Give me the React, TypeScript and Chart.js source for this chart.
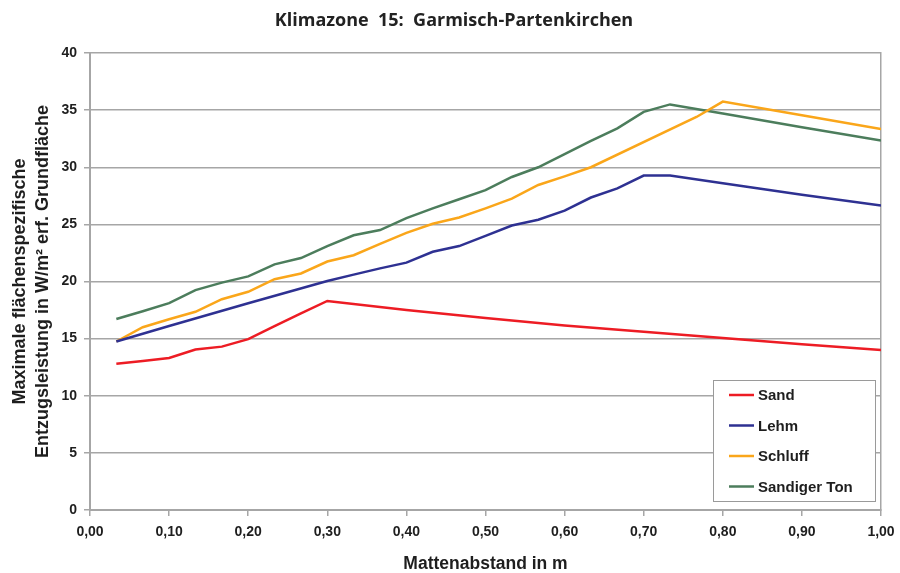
import React, { useEffect, useRef } from 'react';
import { Chart, registerables } from 'chart.js';

Chart.register(...registerables);

const titleText = 'Klimazone  15:  Garmisch-Partenkirchen';
const xAxisTitle = 'Mattenabstand in m';
const yAxisTitle = ['Maximale flächenspezifische', 'Entzugsleistung in W/m² erf. Grundfläche'];

const seriesNames = ['Sand', 'Lehm', 'Schluff', 'Sandiger Ton'];
const seriesColors = ['#ed1c24', '#2e3192', '#faa61a', '#4c7d5c'];

const sandX = [0.0333, 0.0667, 0.1, 0.1333, 0.1667, 0.2, 0.2333, 0.2667, 0.3, 0.4, 0.5, 0.6, 0.7, 0.8, 0.9, 1.0];
const sandY = [12.8, 13.05, 13.3, 14.05, 14.3, 14.95, 16.1, 17.2, 18.3, 17.5, 16.8, 16.15, 15.6, 15.05, 14.5, 14.0];

const lehmX = [0.0333, 0.1, 0.2, 0.3, 0.3333, 0.3667, 0.4, 0.4333, 0.4667, 0.5, 0.5333, 0.5667, 0.6, 0.6333, 0.6667, 0.7, 0.7333, 0.8, 0.9, 1.0];
const lehmY = [14.75, 16.1, 18.1, 20.05, 20.6, 21.15, 21.65, 22.6, 23.1, 24.0, 24.9, 25.4, 26.2, 27.35, 28.15, 29.27, 29.27, 28.6, 27.6, 26.65];

const schluffX = [0.0333, 0.0667, 0.1, 0.1333, 0.1667, 0.2, 0.2333, 0.2667, 0.3, 0.3333, 0.3667, 0.4, 0.4333, 0.4667, 0.5, 0.5333, 0.5667, 0.6, 0.6333, 0.7667, 0.8, 0.9, 1.0];
const schluffY = [14.75, 16.0, 16.7, 17.35, 18.45, 19.1, 20.2, 20.7, 21.75, 22.3, 23.3, 24.25, 25.05, 25.6, 26.4, 27.25, 28.45, 29.2, 30.0, 34.4, 35.75, 34.55, 33.35];

const tonX = [0.0333, 0.0667, 0.1, 0.1333, 0.1667, 0.2, 0.2333, 0.2667, 0.3, 0.3333, 0.3667, 0.4, 0.4333, 0.4667, 0.5, 0.5333, 0.5667, 0.6, 0.6333, 0.6667, 0.7, 0.7333, 0.8, 0.9, 1.0];
const tonY = [16.72, 17.4, 18.1, 19.25, 19.9, 20.45, 21.5, 22.05, 23.1, 24.05, 24.5, 25.55, 26.4, 27.2, 28.0, 29.15, 30.0, 31.15, 32.3, 33.4, 34.85, 35.5, 34.7, 33.5, 32.35];

const xTickValues = [0, 0.1, 0.2, 0.3, 0.4, 0.5, 0.6, 0.7, 0.8, 0.9, 1.0];
const xTickLabels = ['0,00', '0,10', '0,20', '0,30', '0,40', '0,50', '0,60', '0,70', '0,80', '0,90', '1,00'];
const yTickValues = [0, 5, 10, 15, 20, 25, 30, 35, 40];
const yTickLabels = ['0', '5', '10', '15', '20', '25', '30', '35', '40'];

const gridColor = '#a6a6a6';
const textColor = '#1e1e1e';
const sansFamily = "'Liberation Sans', Arial, sans-serif";

const pairs = (xs: number[], ys: number[]) => xs.map((x, i) => ({ x, y: ys[i] }));

const legendPlugin = {
  id: 'boxLegend',
  afterDraw(chart: any) {
    const { ctx, chartArea } = chart;
    const w = 162;
    const h = 121;
    const x0 = chartArea.right - 6 - w;
    const y0 = chartArea.bottom - 9 - h;
    ctx.save();
    ctx.fillStyle = '#ffffff';
    ctx.fillRect(x0, y0, w, h);
    ctx.strokeStyle = '#9a9a9a';
    ctx.lineWidth = 1;
    ctx.strokeRect(x0 + 0.5, y0 + 0.5, w, h);
    ctx.font = `bold 15px ${sansFamily}`;
    ctx.textBaseline = 'middle';
    ctx.textAlign = 'left';
    chart.data.datasets.forEach((ds: any, i: number) => {
      const cy = y0 + 15 + i * 30.5;
      ctx.strokeStyle = ds.borderColor;
      ctx.lineWidth = 2.5;
      ctx.beginPath();
      ctx.moveTo(x0 + 16, cy);
      ctx.lineTo(x0 + 41, cy);
      ctx.stroke();
      ctx.fillStyle = textColor;
      ctx.fillText(ds.label, x0 + 45, cy + 1);
    });
    ctx.restore();
  },
};

export default function App() {
  const canvasRef = useRef<HTMLCanvasElement | null>(null);

  useEffect(() => {
    if (!canvasRef.current) return;
    const seriesData = [pairs(sandX, sandY), pairs(lehmX, lehmY), pairs(schluffX, schluffY), pairs(tonX, tonY)];
    const chart = new Chart(canvasRef.current, {
      type: 'line',
      data: {
        datasets: seriesNames.map((name, i) => ({
          label: name,
          data: seriesData[i],
          borderColor: seriesColors[i],
          backgroundColor: seriesColors[i],
          borderWidth: 2.5,
          pointRadius: 0,
          tension: 0,
          fill: false,
          xAxisID: 'x',
          yAxisID: 'y',
        })),
      },
      options: {
        responsive: true,
        maintainAspectRatio: false,
        animation: false,
        layout: { padding: { left: 8, right: 0, top: 0, bottom: 0 } },
        plugins: {
          legend: { display: false },
          tooltip: { enabled: false },
          title: {
            display: true,
            text: titleText,
            color: '#222222',
            font: { family: "'Open Sans', sans-serif", weight: 700, size: 18, lineHeight: 1.2 },
            padding: { top: 10, bottom: 21.4 },
          },
        },
        scales: {
          x: {
            type: 'linear',
            position: 'bottom',
            min: 0,
            max: 1,
            afterBuildTicks: (s: any) => {
              s.ticks = xTickValues.map((v) => ({ value: v }));
            },
            afterFit: (s: any) => {
              s.height = 63;
              s.paddingLeft = 0;
              s.paddingRight = 0;
            },
            ticks: {
              callback: (_v: any, i: number) => xTickLabels[i],
              font: { family: sansFamily, weight: 'bold', size: 14 },
              color: textColor,
              padding: 8,
              maxRotation: 0,
              autoSkip: false,
            },
            grid: { drawOnChartArea: false, drawTicks: true, tickLength: 6, color: gridColor, lineWidth: 1.5 },
            border: { display: true, color: gridColor, width: 2 },
            title: {
              display: true,
              text: xAxisTitle,
              color: textColor,
              font: { family: sansFamily, weight: 'bold', size: 17.5, lineHeight: 1 },
              padding: { top: 0, bottom: 0 },
            },
          },
          y: {
            type: 'linear',
            position: 'left',
            min: 0,
            max: 40,
            afterBuildTicks: (s: any) => {
              s.ticks = yTickValues.map((v) => ({ value: v }));
            },
            afterFit: (s: any) => {
              s.width = 82;
            },
            ticks: {
              callback: (_v: any, i: number) => yTickLabels[i],
              font: { family: sansFamily, weight: 'bold', size: 14 },
              color: textColor,
              padding: 7,
            },
            grid: { drawOnChartArea: true, drawTicks: true, tickLength: 6, color: gridColor, lineWidth: 1.5 },
            border: { display: true, color: gridColor, width: 2 },
            title: {
              display: true,
              text: yAxisTitle,
              color: textColor,
              font: { family: sansFamily, weight: 'bold', size: 18, lineHeight: 1.3 },
              padding: { top: 0, bottom: 0 },
            },
          },
          yRight: {
            type: 'linear',
            position: 'right',
            min: 0,
            max: 40,
            afterFit: (s: any) => {
              s.width = 19;
            },
            ticks: { display: false },
            grid: { drawOnChartArea: false, drawTicks: false },
            border: { display: true, color: gridColor, width: 1.5 },
          },
        },
      },
      plugins: [legendPlugin],
    } as any);
    return () => chart.destroy();
  }, []);

  return (
    <div style={{ position: 'fixed', left: 0, top: 0, width: 900, height: 573, background: '#ffffff' }}>
      <canvas ref={canvasRef} />
    </div>
  );
}
